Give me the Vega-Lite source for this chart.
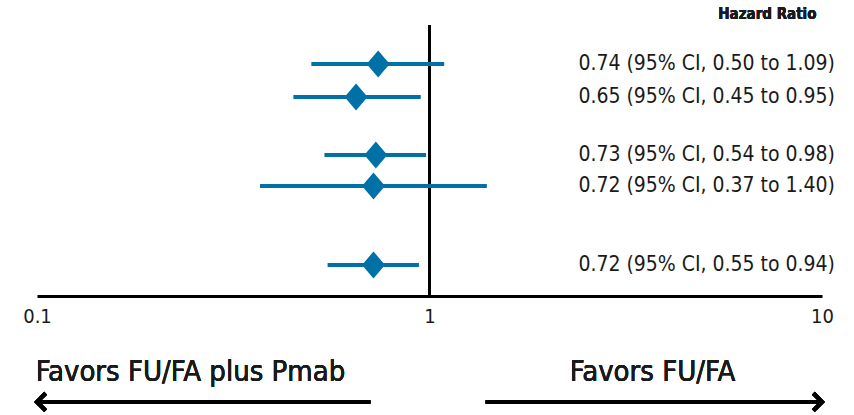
{
  "$schema": "https://vega.github.io/schema/vega-lite/v6.json",
  "width": 785,
  "height": 296,
  "autosize": {"type": "none"},
  "padding": {"left": 37, "top": 0, "right": 32, "bottom": 119},
  "background": "white",
  "config": {"view": {"stroke": null}, "font": "DejaVu Sans Condensed, Liberation Sans, sans-serif"},
  "data": {"values": [
    {"row": 2.0, "hr": 0.74, "lo": 0.50, "hi": 1.09, "label": "0.74 (95% CI, 0.50 to 1.09)"},
    {"row": 3.03, "hr": 0.65, "lo": 0.45, "hi": 0.95, "label": "0.65 (95% CI, 0.45 to 0.95)"},
    {"row": 4.84, "hr": 0.73, "lo": 0.54, "hi": 0.98, "label": "0.73 (95% CI, 0.54 to 0.98)"},
    {"row": 5.81, "hr": 0.72, "lo": 0.37, "hi": 1.40, "label": "0.72 (95% CI, 0.37 to 1.40)"},
    {"row": 8.28, "hr": 0.72, "lo": 0.55, "hi": 0.94, "label": "0.72 (95% CI, 0.55 to 0.94)"}
  ]},
  "encoding": {
    "x": {"field": "hr", "type": "quantitative",
      "scale": {"type": "log", "domain": [0.1, 10], "nice": false},
      "axis": {"values": [0.1, 1, 10], "format": "~g", "title": null, "grid": false, "ticks": false,
        "domainColor": "black", "domainWidth": 3, "labelFontSize": 20, "labelColor": "#1a1a1a",
        "labelPadding": 10, "labelFont": "DejaVu Sans Condensed, Liberation Sans, sans-serif", "labelFlush": false}},
    "y": {"field": "row", "type": "quantitative", "scale": {"domain": [0, 9.25], "reverse": true, "nice": false, "zero": false}, "axis": null}
  },
  "layer": [
    {"mark": {"type": "rule", "color": "black", "strokeWidth": 2.5},
     "encoding": {"x": {"datum": 1}, "y": {"datum": 0.78}, "y2": {"datum": 9.25}}},
    {"mark": {"type": "rule", "color": "#0071a7", "strokeWidth": 4},
     "encoding": {"x": {"field": "lo"}, "x2": {"field": "hi"}}},
    {"mark": {"type": "point", "shape": "M -0.85 0 L 0 -1 L 0.85 0 L 0 1 Z", "filled": true, "color": "#0071a7", "opacity": 1, "size": 729}},
    {"mark": {"type": "text", "align": "right", "baseline": "middle", "dx": 13, "fontSize": 21, "color": "#1a1a1a"},
     "encoding": {"x": {"datum": 10}, "text": {"field": "label"}}},
    {"mark": {"type": "text", "align": "center", "baseline": "middle", "fontSize": 15, "fontWeight": "bold", "color": "#1a1a1a"},
     "encoding": {"x": {"datum": 7.26}, "y": {"datum": 0.44}, "text": {"value": "Hazard Ratio"}}},
    {"mark": {"type": "text", "align": "center", "baseline": "middle", "fontSize": 29, "color": "#1a1a1a"},
     "encoding": {"x": {"datum": 0.246}, "y": {"datum": 11.63}, "text": {"value": "Favors FU/FA plus Pmab"}}},
    {"mark": {"type": "text", "align": "center", "baseline": "middle", "fontSize": 29, "color": "#1a1a1a"},
     "encoding": {"x": {"datum": 3.7}, "y": {"datum": 11.63}, "text": {"value": "Favors FU/FA"}}},
    {"mark": {"type": "rule", "color": "black", "strokeWidth": 3.5},
     "encoding": {"x": {"datum": 0.102}, "x2": {"datum": 0.707}, "y": {"datum": 12.56}}},
    {"mark": {"type": "rule", "color": "black", "strokeWidth": 3.5},
     "encoding": {"x": {"datum": 1.39}, "x2": {"datum": 9.8}, "y": {"datum": 12.56}}},
    {"mark": {"type": "point", "shape": "M 1 -1 L 0 0 L 1 1", "filled": false, "color": "black", "strokeWidth": 4, "opacity": 1, "size": 300, "strokeCap": "butt", "strokeJoin": "miter"},
     "encoding": {"x": {"datum": 0.1}, "y": {"datum": 12.56}}},
    {"mark": {"type": "point", "shape": "M -1 -1 L 0 0 L -1 1", "filled": false, "color": "black", "strokeWidth": 4, "opacity": 1, "size": 300, "strokeCap": "butt", "strokeJoin": "miter"},
     "encoding": {"x": {"datum": 10}, "y": {"datum": 12.56}}}
  ]
}
